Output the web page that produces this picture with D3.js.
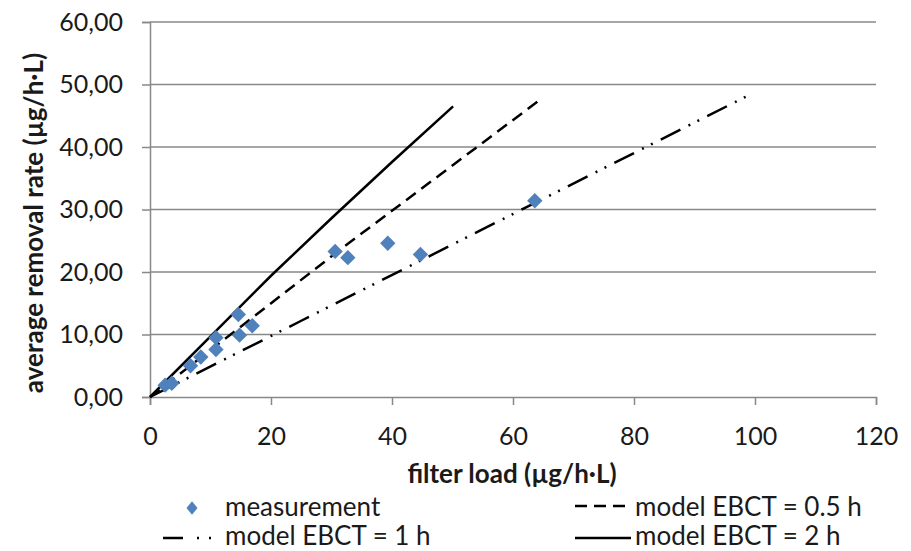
<!DOCTYPE html>
<html>
<head>
<meta charset="utf-8">
<script src="https://cdn.jsdelivr.net/npm/d3@7"></script>
<style>
  html, body { margin: 0; padding: 0; background: #fff; }
  svg { display: block; font-family: Lato, "Open Sans", sans-serif; }
</style>
</head>
<body>
<svg id="chart" width="911" height="551"></svg>
<script>
// Measured filter load vs. average removal rate
const loadMeasured = [2.5, 3.6, 6.7, 8.4, 10.9, 10.9, 14.6, 14.8, 16.9, 30.6, 32.7, 39.3, 44.7, 63.6];
const rateMeasured = [1.9, 2.2, 5.0, 6.4, 7.6, 9.5, 13.2, 9.9, 11.4, 23.3, 22.3, 24.6, 22.8, 31.4];

// Model curves for three empty bed contact times
const loadModel05 = [0, 16, 32, 48, 64.1];
const rateModel05 = [0, 12.0, 24.0, 35.6, 47.3];
const loadModel1 = [0, 25, 50, 75, 98.8];
const rateModel1 = [0, 12.2, 24.4, 36.6, 48.2];
const loadModel2 = [0, 10, 20, 30, 40, 50.1];
const rateModel2 = [0, 9.7, 19.4, 28.6, 37.6, 46.5];

const xTicks = [0, 20, 40, 60, 80, 100, 120];
const yTicks = [0, 10, 20, 30, 40, 50, 60];

const seriesLabels = ["measurement", "model EBCT = 0.5 h", "model EBCT = 1 h", "model EBCT = 2 h"];

const svg = d3.select("#chart");
const margin = { left: 150, right: 35, top: 22, bottom: 154 };
const W = 911, H = 551;

const x = d3.scaleLinear().domain([0, 120]).range([margin.left, W - margin.right]);
const y = d3.scaleLinear().domain([0, 60]).range([H - margin.bottom, margin.top]);

const comma = d3.formatLocale({ decimal: ",", thousands: ".", grouping: [3], currency: ["", ""] });
const fmtY = comma.format(".2f");

const axisColor = "#888888";
const textColor = "#1a1a1a";

const dashed = "12,7";
const dashDotDot = "22,9,2,8,2,9";

// horizontal gridlines
svg.append("g")
  .selectAll("line")
  .data(yTicks.filter(d => d > 0))
  .join("line")
  .attr("x1", x(0)).attr("x2", x(120))
  .attr("y1", d => y(d)).attr("y2", d => y(d))
  .attr("stroke", axisColor).attr("stroke-width", 1.5);

// axes
const xAxis = svg.append("g")
  .attr("transform", `translate(0,${y(0)})`)
  .call(d3.axisBottom(x).tickValues(xTicks).tickSize(8).tickPadding(22).tickFormat(d3.format("d")));
const yAxis = svg.append("g")
  .attr("transform", `translate(${x(0)},0)`)
  .call(d3.axisLeft(y).tickValues(yTicks).tickSize(8).tickPadding(19).tickFormat(fmtY));

[xAxis, yAxis].forEach(g => {
  g.select(".domain").attr("stroke", axisColor).attr("stroke-width", 1.5);
  g.selectAll(".tick line").attr("stroke", axisColor).attr("stroke-width", 1.5);
  g.selectAll(".tick text").attr("fill", textColor).style("font-size", "25px").style("font-family", "Lato, sans-serif");
});

// axis titles
svg.append("text")
  .attr("x", 512).attr("y", 483)
  .attr("text-anchor", "middle")
  .attr("fill", textColor)
  .style("font-size", "26px").style("font-weight", "bold")
  .text("filter load (µg/h·L)");

svg.append("text")
  .attr("transform", `translate(43,223) rotate(-90)`)
  .attr("text-anchor", "middle")
  .attr("fill", textColor)
  .style("font-size", "26px").style("font-weight", "bold")
  .text("average removal rate (µg/h·L)");

// model lines
const line = d3.line().x(d => x(d[0])).y(d => y(d[1]));
const models = [
  { xs: loadModel05, ys: rateModel05, dash: dashed },
  { xs: loadModel1, ys: rateModel1, dash: dashDotDot },
  { xs: loadModel2, ys: rateModel2, dash: null }
];
models.forEach(m => {
  svg.append("path")
    .datum(m.xs.map((v, i) => [v, m.ys[i]]))
    .attr("d", line)
    .attr("fill", "none")
    .attr("stroke", "#000")
    .attr("stroke-width", 2.5)
    .attr("stroke-dasharray", m.dash);
});

// measurement diamonds
const diamond = d3.symbol().type(d3.symbolDiamond2).size(150);
svg.append("g")
  .selectAll("path")
  .data(loadMeasured.map((v, i) => [v, rateMeasured[i]]))
  .join("path")
  .attr("d", diamond)
  .attr("transform", d => `translate(${x(d[0])},${y(d[1])})`)
  .attr("fill", "#4f81bd");

// legend
const lg = svg.append("g").style("font-size", "26px").attr("fill", textColor);
lg.append("path").attr("d", d3.symbol().type(d3.symbolDiamond2).size(95))
  .attr("transform", "translate(192,508) scale(0.9,1.1)").attr("fill", "#4f81bd");
lg.append("text").attr("x", 225).attr("y", 516).text(seriesLabels[0]);

lg.append("line").attr("x1", 575).attr("x2", 631).attr("y1", 506).attr("y2", 506)
  .attr("stroke", "#000").attr("stroke-width", 2.5).attr("stroke-dasharray", dashed);
lg.append("text").attr("x", 635).attr("y", 516).text(seriesLabels[1]);

lg.append("line").attr("x1", 163).attr("x2", 213).attr("y1", 538).attr("y2", 538)
  .attr("stroke", "#000").attr("stroke-width", 2.5).attr("stroke-dasharray", "20,14,2,10,2,20");
lg.append("text").attr("x", 225).attr("y", 545).text(seriesLabels[2]);

lg.append("line").attr("x1", 575).attr("x2", 631).attr("y1", 538).attr("y2", 538)
  .attr("stroke", "#000").attr("stroke-width", 2.5);
lg.append("text").attr("x", 635).attr("y", 545).text(seriesLabels[3]);
</script>
</body>
</html>
